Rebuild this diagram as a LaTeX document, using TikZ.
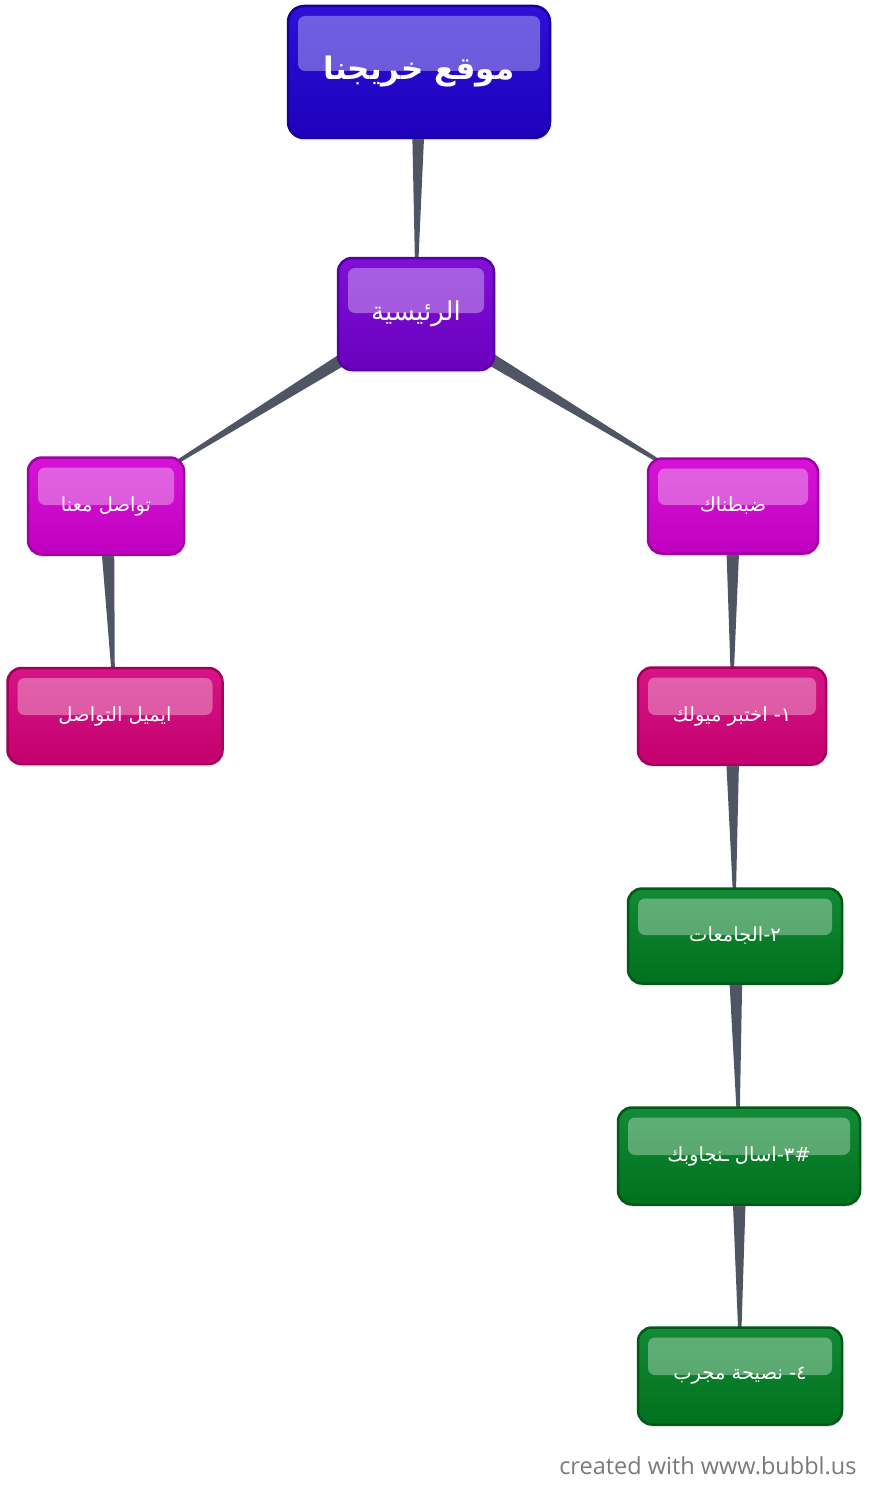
\documentclass[tikz,border=0pt]{standalone}
\usepackage{fontspec}
\setsansfont{Open Sans}
\newfontfamily\arabicfont[Script=Arabic]{DejaVu Sans}
\TeXXeTstate=1
\usetikzlibrary{calc,backgrounds,shadows}

\definecolor{blueA}{HTML}{2E10D8}
\definecolor{blueB}{HTML}{1E00BC}
\definecolor{blueD}{HTML}{1800A0}
\definecolor{purpA}{HTML}{8010D6}
\definecolor{purpB}{HTML}{6A00BE}
\definecolor{purpD}{HTML}{5A00A2}
\definecolor{magA}{HTML}{D614D6}
\definecolor{magB}{HTML}{C000C0}
\definecolor{magD}{HTML}{A000A4}
\definecolor{pinkA}{HTML}{D61485}
\definecolor{pinkB}{HTML}{C4006E}
\definecolor{pinkD}{HTML}{A2005A}
\definecolor{grnA}{HTML}{128A36}
\definecolor{grnB}{HTML}{00701E}
\definecolor{grnD}{HTML}{005A16}
\definecolor{linkgray}{HTML}{4F5563}
\definecolor{creditgray}{HTML}{7A7A7A}

\tikzstyle{bub} = [rectangle, rounded corners=14pt, line width=2.5pt, text=white, align=center, inner sep=0pt,
  font=\arabicfont\fontsize{19.5}{23}\selectfont,
  drop shadow={opacity=0.18, shadow xshift=1pt, shadow yshift=-2.5pt},
  path picture={\fill[white, opacity=0.33, rounded corners=7pt]
    ([xshift=10pt, yshift=-10pt]path picture bounding box.north west) rectangle
    ([xshift=-10pt, yshift=1pt]path picture bounding box.east);}]
\tikzstyle{bb} = [bub, draw=blueD, top color=blueA, bottom color=blueB]
\tikzstyle{pb} = [bub, draw=purpD, top color=purpA, bottom color=purpB]
\tikzstyle{mb} = [bub, draw=magD,  top color=magA,  bottom color=magB]
\tikzstyle{kb} = [bub, draw=pinkD, top color=pinkA, bottom color=pinkB]
\tikzstyle{gb} = [bub, draw=grnD,  top color=grnA,  bottom color=grnB]
\tikzstyle{link} = [fill=linkgray]

\newcommand\branch[2]{\fill[link] ($(#1.center)!8pt!90:(#2.center)$) -- ($(#1.center)!8pt!-90:(#2.center)$) -- (#2.center) -- cycle;}

\begin{document}
\begin{tikzpicture}[x=1pt, y=-1pt]
		\useasboundingbox (0,0) rectangle (878,1498);

		% boxes
		\node (site)  [bb, minimum width=262pt, minimum height=132pt, rounded corners=16pt,
		               font=\arabicfont\bfseries\fontsize{31}{38}\selectfont] at (419,72) {\beginR موقع خريجنا\endR};
		\node (home)  [pb, minimum width=156pt, minimum height=112pt,
		               font=\arabicfont\fontsize{26}{30}\selectfont] at (416,314) {\beginR الرئيسية\endR};
		\node (contact) [mb, minimum width=156pt, minimum height=97pt] at (106,506) {\beginR تواصل معنا\endR};
		\node (tuned)   [mb, minimum width=170pt, minimum height=95pt] at (733,506) {\beginR ضبطناك\endR};
		\node (email)   [kb, minimum width=215pt, minimum height=96pt] at (115,716) {\beginR ايميل التواصل\endR};
		\node (step1)   [kb, minimum width=188pt, minimum height=97pt] at (732,716) {\beginR ١- اختبر ميولك\endR};
		\node (step2)   [gb, minimum width=214pt, minimum height=95pt] at (735,936) {\beginR ٢-الجامعات\endR};
		\node (step3)   [gb, minimum width=242pt, minimum height=97pt] at (739,1156) {\beginR \#٣-اسال ـنجاوبك\endR};
		\node (step4)   [gb, minimum width=204pt, minimum height=97pt] at (740,1376) {\beginR ٤- نصيحة مجرب\endR};

		\node (credit) [anchor=base east, text=creditgray, font=\sffamily\fontsize{23.5}{28}\selectfont]
		      at (860,1474) {created with www.bubbl.us};

		% tapered links
		\begin{pgfonlayer}{background}
			\branch{site}{home}
			\branch{home}{contact}
			\branch{home}{tuned}
			\branch{contact}{email}
			\branch{tuned}{step1}
			\branch{step1}{step2}
			\branch{step2}{step3}
			\branch{step3}{step4}
		\end{pgfonlayer}
	\end{tikzpicture}
\end{document}
